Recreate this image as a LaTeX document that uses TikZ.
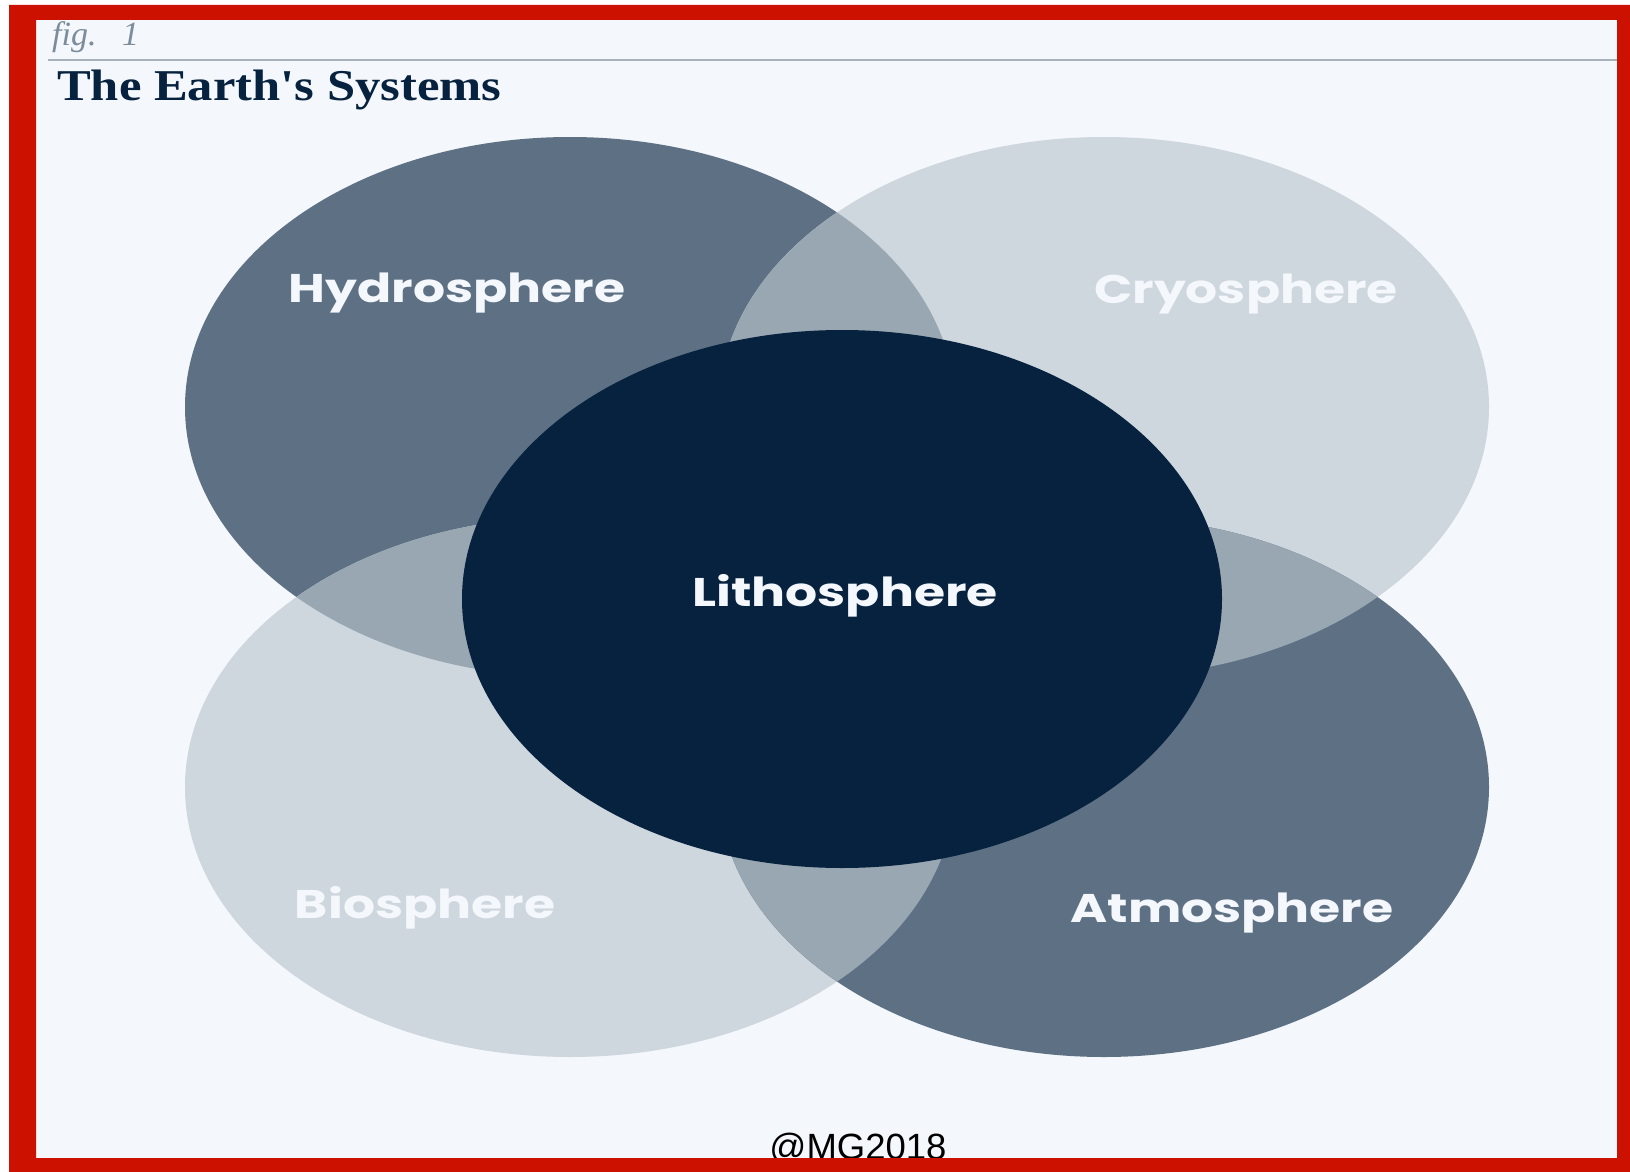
\documentclass[tikz,border=0pt]{standalone}
\usepackage{fontspec}
\setmainfont{Liberation Serif}
\newfontfamily\spherefont{Poppins}[FakeStretch=1.26]
\newfontfamily\markfont{Liberation Sans}

\definecolor{panel}{HTML}{F4F7FB}
\definecolor{frame}{HTML}{CC1100}
\definecolor{slate}{HTML}{5E7184}
\definecolor{mist}{HTML}{CED6DE}
\definecolor{blend}{HTML}{99A7B3}
\definecolor{navy}{HTML}{06223F}
\definecolor{rulegray}{HTML}{A7B2BD}
\definecolor{figgray}{HTML}{7D8C9A}

\tikzset{
  dark/.style={fill=slate},
  light/.style={fill=mist},
  lens/.style={fill=blend},
  tag/.style={text=panel, inner sep=0pt, anchor=base,
    font=\spherefont\bfseries\fontsize{40}{44}\selectfont},
}

\def\hydro{(570,407) ellipse [x radius=385, y radius=270]}
\def\cryo{(1104,407) ellipse [x radius=385, y radius=270]}
\def\bio{(570,787) ellipse [x radius=385, y radius=270]}
\def\atmo{(1104,787) ellipse [x radius=385, y radius=270]}
\def\litho{(842,599) ellipse [x radius=380, y radius=269]}

\begin{document}
\begin{tikzpicture}[x=1pt, y=-1pt]
    \useasboundingbox (0,0) rectangle (1630,1172);
    \fill[white] (0,0) rectangle (1630,1172);
    \fill[panel] (9,5) rectangle (1630,1172);

    \node[anchor=base west, inner sep=0pt, text=figgray, font=\itshape\fontsize{34}{36}\selectfont] (fig) at (52,46) {fig.\hspace{0.75em}1};
    \draw[rulegray, line width=2] (48,60) -- (1617,60);
    \node[anchor=base west, inner sep=0pt, text=navy, font=\bfseries\fontsize{44}{48}\selectfont] (title) at (57,100) {\scalebox{1.15}[1]{The Earth\textquotesingle s Systems}};

    \fill[dark] \hydro;
    \fill[light] \cryo;
    \fill[light] \bio;
    \fill[dark] \atmo;
    \begin{scope}
      \clip \hydro;
      \fill[lens] \cryo;
      \fill[lens] \bio;
    \end{scope}
    \begin{scope}
      \clip \atmo;
      \fill[lens] \cryo;
      \fill[lens] \bio;
    \end{scope}
    \fill[navy] \litho;

    \node[tag] (hydrosphere) at (457,302) {Hydrosphere};
    \node[tag] (cryosphere) at (1246,303) {Cryosphere};
    \node[tag] (lithosphere) at (845,606) {Lithosphere};
    \node[tag] (biosphere) at (425,918) {Biosphere};
    \node[tag] (atmosphere) at (1232,922) {Atmosphere};

    \node[anchor=base, inner sep=0pt, font=\markfont\fontsize{36.5}{40}\selectfont] (mark) at (858,1159) {@MG2018};

    \fill[frame, even odd rule] (9,5) rectangle (1630,1172) (36,20) rectangle (1617,1158);
\end{tikzpicture}
\end{document}
